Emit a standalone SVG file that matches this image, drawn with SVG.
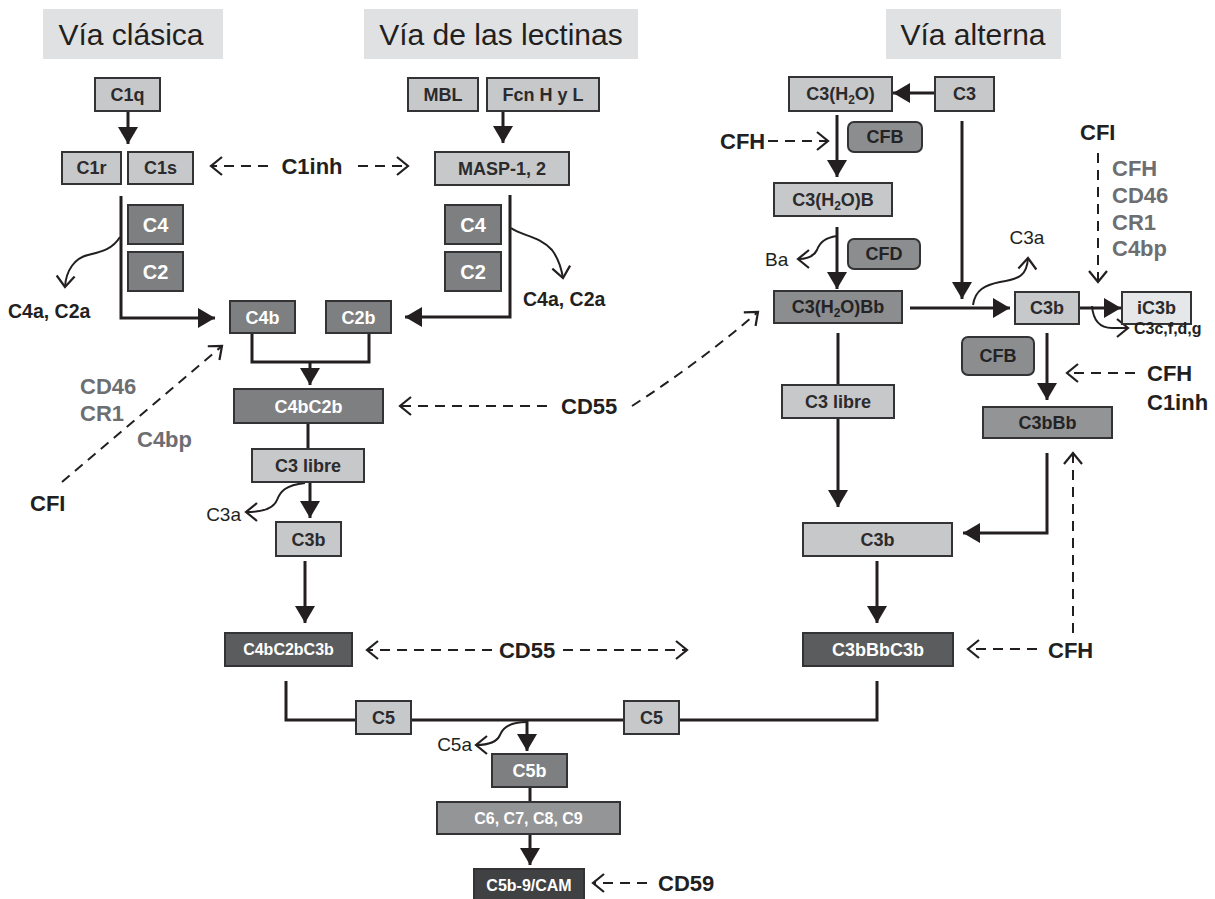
<svg xmlns="http://www.w3.org/2000/svg" width="1215" height="899" viewBox="0 0 1215 899">
<defs>
<style>
text{font-family:"Liberation Sans",Arial,sans-serif}
.title{font-size:30px;fill:#231f20;text-anchor:middle}
.tbox{fill:#e0e1e3}
.n rect{stroke:#333335;stroke-width:2}
.n text{font-size:18px;font-weight:bold;text-anchor:middle}
.lt rect{fill:#c7c8ca}
.lt text{fill:#2b2b2d}
.md rect{fill:#7e7f81}
.md text{fill:#ffffff}
.gd rect{fill:#8c8d8f}
.gd text{fill:#232325}
.g2 rect{fill:#949597}
.g2 text{fill:#ffffff}
.dk rect{fill:#5b5c5e}
.dk text{fill:#ffffff}
.xd rect{fill:#404143}
.xd text{fill:#ffffff}
.vl rect{fill:#e6e7e8}
.vl text{fill:#2b2b2d}
.n.sm text{font-size:16px}
.n.big text{font-size:20px}
.lab{font-size:22px;font-weight:bold;fill:#231f20}
.glab{font-size:22px;font-weight:bold;fill:#6d6e71}
.mlab{font-size:19.5px;font-weight:bold;fill:#231f20}
.rlab{font-size:19px;fill:#231f20}
.s{fill:none;stroke:#231f20;stroke-width:3}
.sa{fill:none;stroke:#231f20;stroke-width:3;marker-end:url(#solid)}
.d{fill:none;stroke:#231f20;stroke-width:2;stroke-dasharray:10 7;marker-end:url(#open)}
.c{fill:none;stroke:#231f20;stroke-width:2;marker-end:url(#open)}
</style>
<marker id="solid" markerUnits="userSpaceOnUse" viewBox="0 0 17 20" markerWidth="17" markerHeight="20" refX="17" refY="10" orient="auto">
<path d="M0,0 L17,10 L0,20 z" fill="#231f20"/>
</marker>
<marker id="open" markerUnits="userSpaceOnUse" viewBox="0 0 14 20" markerWidth="14" markerHeight="20" refX="12" refY="10" orient="auto" overflow="visible">
<path d="M1,1 L12,10 L1,19" fill="none" stroke="#231f20" stroke-width="2.2" stroke-dasharray="none"/>
</marker>
</defs>
<rect width="1215" height="899" fill="#ffffff"/>

<g id="titles">
<rect class="tbox" x="43" y="9" width="180" height="50"/>
<text class="title" x="131" y="45">Vía clásica</text>
<rect class="tbox" x="364" y="9" width="274" height="50"/>
<text class="title" x="501" y="45">Vía de las lectinas</text>
<rect class="tbox" x="886" y="9" width="175" height="50"/>
<text class="title" x="973" y="45">Vía alterna</text>
</g>

<g id="connectors">
<path class="sa" d="M128,111 V144"/>
<path class="sa" d="M121,196 V318 H215"/>
<path class="c" d="M120,237 C112,250 100,252 88,255 C75,258 66,270 65,287"/>
<path class="sa" d="M503,111 V143"/>
<path class="sa" d="M510,195 V317 H405"/>
<path class="c" d="M511,228 C522,236 540,236 552,250 C558,258 561,266 563,278"/>
<path class="s" d="M252,333 V362 H369 V333"/>
<path class="sa" d="M310,362 V385"/>
<path class="s" d="M308,423 V449"/>
<path class="sa" d="M310,482 V518"/>
<path class="c" d="M305,483 C285,485 280,492 277,500 C274,508 262,512 246,512"/>
<path class="sa" d="M305,561 V623"/>
<path class="s" d="M286,681 V720 H877 V681"/>
<path class="sa" d="M527,720 V751"/>
<path class="c" d="M527,722 C510,722 503,727 500,735 C497,742 490,745 476,745"/>
<path class="s" d="M530,787 V802"/>
<path class="sa" d="M530,834 V865"/>
<path class="d" d="M647,883 H593"/>
<path class="d" d="M268,166 H211"/>
<path class="d" d="M358,166 H408"/>
<path class="d" d="M62,482 L222,346"/>
<path class="d" d="M547,406 H400"/>
<path class="d" d="M632,406 Q700,362 758,312"/>
<path class="d" d="M492,650 H367"/>
<path class="d" d="M563,650 H687"/>
<path class="sa" d="M935,93 H893"/>
<path class="sa" d="M837,115 V177"/>
<path class="d" d="M768,141 H828"/>
<path class="sa" d="M837,227 V289"/>
<path class="c" d="M837,236 C825,238 820,242 817,250 C814,256 808,259 798,259"/>
<path class="sa" d="M962,121 V299"/>
<path class="sa" d="M910,308 H1010"/>
<path class="c" d="M973,305 C975,290 985,285 1000,282 C1020,279 1027,275 1028,258"/>
<path class="sa" d="M1079,308 H1121"/>
<path class="c" d="M1092,306 C1093,318 1098,328 1112,328 L1128,328"/>
<path class="d" d="M1098,153 V282"/>
<path class="sa" d="M1047,333 V400"/>
<path class="d" d="M1135,373 H1067"/>
<path class="sa" d="M838,333 V507"/>
<path class="sa" d="M1047,453 V533 H963"/>
<path class="sa" d="M877,561 V623"/>
<path class="d" d="M1073,633 V453"/>
<path class="d" d="M1037,649 H968"/>
</g>

<g id="n-C1q" class="n lt"><rect x="95" y="78" width="65" height="33"/><text x="127.5" y="101">C1q</text></g>
<g id="n-C1r" class="n lt"><rect x="62" y="152" width="59" height="32"/><text x="91.5" y="174">C1r</text></g>
<g id="n-C1s" class="n lt"><rect x="128" y="152" width="65" height="32"/><text x="160.5" y="174">C1s</text></g>
<g id="n-C4-cl" class="n md big"><rect x="128" y="205" width="55" height="39"/><text x="155.5" y="232">C4</text></g>
<g id="n-C2-cl" class="n md big"><rect x="128" y="252" width="55" height="39"/><text x="155.5" y="279">C2</text></g>
<g id="n-MBL" class="n lt"><rect x="408" y="78" width="70" height="33"/><text x="443" y="101">MBL</text></g>
<g id="n-Fcn" class="n lt"><rect x="487" y="78" width="112" height="33"/><text x="543" y="101">Fcn H y L</text></g>
<g id="n-MASP" class="n lt"><rect x="435" y="152" width="134" height="33"/><text x="502" y="175">MASP-1, 2</text></g>
<g id="n-C4-lec" class="n md big"><rect x="445" y="205" width="56" height="39"/><text x="473" y="232">C4</text></g>
<g id="n-C2-lec" class="n md big"><rect x="445" y="252" width="56" height="39"/><text x="473" y="279">C2</text></g>
<g id="n-C4b" class="n md"><rect x="230" y="301" width="65" height="32"/><text x="262.5" y="324">C4b</text></g>
<g id="n-C2b" class="n md"><rect x="326" y="301" width="65" height="32"/><text x="358.5" y="324">C2b</text></g>
<g id="n-C4bC2b" class="n md"><rect x="234" y="389" width="149" height="34"/><text x="308.5" y="413">C4bC2b</text></g>
<g id="n-C3libre-l" class="n lt"><rect x="252" y="449" width="112" height="33"/><text x="308" y="472">C3 libre</text></g>
<g id="n-C3b-l" class="n lt"><rect x="276" y="522" width="65" height="34"/><text x="308.5" y="546">C3b</text></g>
<g id="n-C4bC2bC3b" class="n dk sm"><rect x="225" y="633" width="127" height="33"/><text x="288.5" y="655">C4bC2bC3b</text></g>
<g id="n-C5-l" class="n lt"><rect x="356" y="701" width="55" height="33"/><text x="383.5" y="724">C5</text></g>
<g id="n-C5-r" class="n lt"><rect x="624" y="701" width="55" height="33"/><text x="651.5" y="724">C5</text></g>
<g id="n-C5b" class="n md"><rect x="492" y="754" width="75" height="33"/><text x="529.5" y="777">C5b</text></g>
<g id="n-C6789" class="n g2 sm"><rect x="437" y="802" width="183" height="32"/><text x="528.5" y="824">C6, C7, C8, C9</text></g>
<g id="n-CAM" class="n xd sm"><rect x="474" y="869" width="110" height="32"/><text x="529" y="891">C5b-9/CAM</text></g>

<g id="n-C3H2O" class="n lt"><rect x="789" y="77" width="103" height="34"/><text x="840.5" y="100">C3(H<tspan font-size="12" dy="4">2</tspan><tspan dy="-4">O)</tspan></text></g>
<g id="n-C3" class="n lt"><rect x="935" y="77" width="59" height="34"/><text x="964.5" y="100">C3</text></g>
<g id="n-CFB1" class="n gd"><rect x="848" y="122" width="74" height="30" rx="6"/><text x="885" y="143">CFB</text></g>
<g id="n-C3H2OB" class="n lt"><rect x="774" y="183" width="118" height="33"/><text x="833" y="206">C3(H<tspan font-size="12" dy="4">2</tspan><tspan dy="-4">O)B</tspan></text></g>
<g id="n-CFD" class="n gd"><rect x="848" y="239" width="72" height="30" rx="6"/><text x="884" y="260">CFD</text></g>
<g id="n-C3H2OBb" class="n gd"><rect x="774" y="291" width="128" height="32"/><text x="838" y="313">C3(H<tspan font-size="12" dy="4">2</tspan><tspan dy="-4">O)Bb</tspan></text></g>
<g id="n-C3b-r" class="n lt"><rect x="1015" y="292" width="64" height="32"/><text x="1047" y="314">C3b</text></g>
<g id="n-iC3b" class="n vl"><rect x="1122" y="292" width="69" height="32"/><text x="1156.5" y="314">iC3b</text></g>
<g id="n-CFB2" class="n gd"><rect x="962" y="337" width="72" height="38" rx="6"/><text x="998" y="362">CFB</text></g>
<g id="n-C3libre-r" class="n lt"><rect x="782" y="385" width="112" height="33"/><text x="838" y="408">C3 libre</text></g>
<g id="n-C3bBb" class="n gd"><rect x="983" y="407" width="129" height="31" style="fill:#939496"/><text x="1047.5" y="429">C3bBb</text></g>
<g id="n-C3b-low" class="n lt"><rect x="803" y="523" width="149" height="33"/><text x="877.5" y="546">C3b</text></g>
<g id="n-C3bBbC3b" class="n dk"><rect x="803" y="633" width="150" height="33"/><text x="878" y="656">C3bBbC3b</text></g>

<g id="labels">
<text class="lab" x="312" y="174" text-anchor="middle">C1inh</text>
<text class="mlab" x="8" y="318">C4a, C2a</text>
<text class="mlab" x="523" y="306">C4a, C2a</text>
<text class="glab" x="80" y="394">CD46</text>
<text class="glab" x="80" y="421">CR1</text>
<text class="glab" x="137" y="447">C4bp</text>
<text class="lab" x="30" y="511">CFI</text>
<text class="rlab" x="241" y="521" text-anchor="end">C3a</text>
<text class="lab" x="561" y="414">CD55</text>
<text class="lab" x="527" y="658" text-anchor="middle">CD55</text>
<text class="rlab" x="472" y="751" text-anchor="end">C5a</text>
<text class="lab" x="658" y="891">CD59</text>
<text class="lab" x="720" y="149">CFH</text>
<text class="rlab" x="765" y="266">Ba</text>
<text class="rlab" x="1027" y="244" text-anchor="middle">C3a</text>
<text class="lab" x="1080" y="140">CFI</text>
<text class="glab" x="1112" y="176">CFH</text>
<text class="glab" x="1112" y="203">CD46</text>
<text class="glab" x="1112" y="230">CR1</text>
<text class="glab" x="1112" y="256">C4bp</text>
<text x="1134" y="334" font-size="16" font-weight="bold" fill="#231f20">C3c,f,d,g</text>
<text class="lab" x="1147" y="381">CFH</text>
<text class="lab" x="1147" y="410">C1inh</text>
<text class="lab" x="1048" y="658">CFH</text>
</g>
</svg>
